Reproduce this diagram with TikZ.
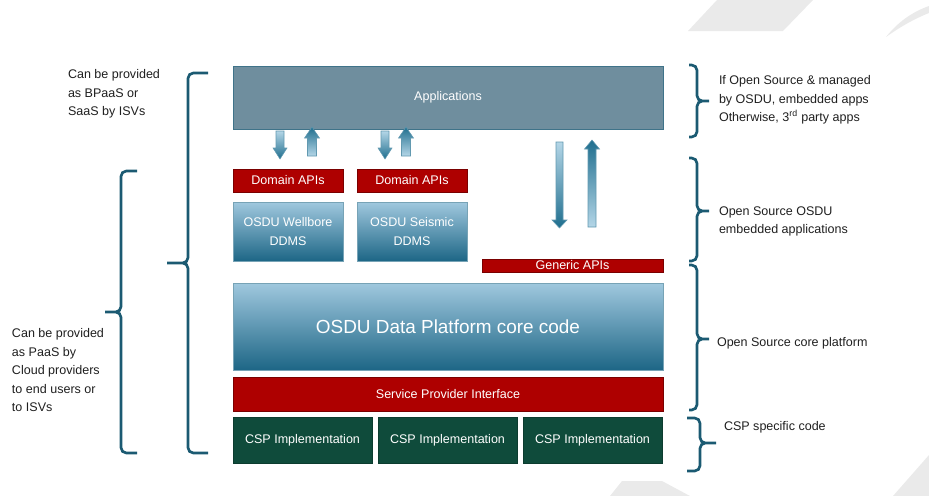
\documentclass[tikz,border=0pt]{standalone}
\usepackage{fontspec}
\setmainfont{Liberation Sans}
\usetikzlibrary{positioning}
\usetikzlibrary{shadows}
\definecolor{appgray}{HTML}{6F8E9E}
\definecolor{appedge}{HTML}{3F7389}
\definecolor{apired}{HTML}{AE0000}
\definecolor{cspgreen}{HTML}{0F4B3B}
\definecolor{boxtop}{HTML}{A0C8DE}
\definecolor{boxbot}{HTML}{1D6686}
\definecolor{bracecol}{HTML}{1B5A72}
\definecolor{arrlight}{HTML}{B4D6E7}
\definecolor{arrdark}{HTML}{1F6E8E}
\definecolor{wmark}{HTML}{EAEAEA}

\begin{document}
\begin{tikzpicture}[
            x = 0.75pt, y = -0.75pt, % one unit = one pixel
            font = \fontsize{9.4}{13.9}\selectfont,
            inner sep = 0pt,
            outer sep = 0pt
        ]

        \tikzstyle{layer}=[
            thin,
            text = white,
            drop shadow = {shadow xshift = 1pt, shadow yshift = -1pt, opacity = .25}
        ]
        \tikzstyle{apps}=[layer, fill = appgray, draw = appedge]
        \tikzstyle{api}=[layer, fill = apired, draw = apired!70!black]
        \tikzstyle{ddms}=[layer, top color = boxtop, bottom color = boxbot, draw = boxbot!60, align = center]
        \tikzstyle{csp}=[layer, fill = cspgreen, draw = cspgreen!80!black,
            minimum width = 104.25pt, minimum height = 34.5pt]
        \tikzstyle{brace}=[draw = bracecol, line width = 2pt, rounded corners = 4pt]
        \tikzstyle{note}=[anchor = north west, align = left, text = black!88]
        \tikzstyle{upblock}=[draw = arrdark!70, thin, top color = arrdark, bottom color = arrlight]
        \tikzstyle{downblock}=[draw = arrdark!70, thin, top color = arrlight, bottom color = arrdark]

        \useasboundingbox (0,0) rectangle (929,496);

        % background marks
        \fill[wmark] (688,31) -- (717,0) -- (813,0) -- (783,31) -- cycle;
        \fill[wmark] (886,37) .. controls (898,22) and (912,12) .. (929,6) -- (929,13)
            .. controls (914,19) and (900,27) .. (886,37) -- cycle;
        \fill[wmark] (610,496) -- (622,481) -- (662,481) -- (690,496) -- cycle;
        \fill[wmark] (893,496) -- (929,455) -- (929,496) -- cycle;

        % applications
        \node[apps, minimum width = 322.5pt, minimum height = 47.25pt] (Apps) at (448,97.5) {Applications};

        % embedded applications
        \node[api, minimum width = 82.5pt, minimum height = 17.25pt] (DomA) at (288,180.5) {Domain APIs};
        \node[api, minimum width = 82.5pt, minimum height = 17.25pt] (DomB) [right = 10.5pt of DomA] {Domain APIs};
        \node[ddms, minimum width = 82.5pt, minimum height = 44.25pt] (Wellbore) [below = 7.5pt of DomA] {OSDU Wellbore\\DDMS};
        \node[ddms, minimum width = 82.5pt, minimum height = 44.25pt] (Seismic) [below = 7.5pt of DomB] {OSDU Seismic\\DDMS};

        \draw[downblock] (276,131) -- (284,131) -- (284,148) -- (287,148) -- (280,159) -- (273,148) -- (276,148) -- cycle;
        \draw[upblock] (307.5,156) -- (307.5,138) -- (304.5,138) -- (312,127) -- (319.5,138) -- (316.5,138) -- (316.5,156) -- cycle;
        \draw[downblock] (381,131) -- (389,131) -- (389,148) -- (392,148) -- (385,159) -- (378,148) -- (381,148) -- cycle;
        \draw[upblock] (401.5,156) -- (401.5,138) -- (398.5,138) -- (406,127) -- (413.5,138) -- (410.5,138) -- (410.5,156) -- cycle;
        \draw[downblock] (556,142) -- (563,142) -- (563,220) -- (567,220) -- (559.5,228) -- (552,220) -- (556,220) -- cycle;
        \draw[upblock] (588,227) -- (588,149) -- (584.5,149) -- (592,140) -- (599.5,149) -- (596,149) -- (596,227) -- cycle;

        % core platform
        \node[api, minimum width = 135.75pt, minimum height = 9.75pt] (Generic) at (572.5,265.5) {Generic APIs};
        \node[ddms, minimum width = 322.5pt, minimum height = 65.25pt, font = \fontsize{14.2}{17}\selectfont] (Core) at (448,326.5) {OSDU Data Platform core code};
        \node[api, minimum width = 322.5pt, minimum height = 25.5pt] (SPI) at (448,394) {Service Provider Interface};

        % cloud providers
        \node[csp] (CSPa) at (302.5,440) {CSP Implementation};
        \node[csp] (CSPb) [right = 4.5pt of CSPa] {CSP Implementation};
        \node[csp] (CSPc) [right = 4.5pt of CSPb] {CSP Implementation};

        % braces
        \draw[brace] (208,73) -| (188,263) -- (167,263) (167,263) -- (188,263) |- (208,453);
        \draw[brace] (137,171) -| (121,312) -- (105,312) (105,312) -- (121,312) |- (137,453);
        \draw[brace] (689,65) -| (697,101) -- (709,101) (709,101) -- (697,101) |- (689,137);
        \draw[brace] (689,158) -| (697,211) -- (709,211) (709,211) -- (697,211) |- (689,261);
        \draw[brace] (689,265) -| (697,339) -- (709,339) (709,339) -- (697,339) |- (689,410);
        \draw[brace] (687,418) -| (700,443) -- (716,443) (716,443) -- (700,443) |- (687,471);

        % notes
        \node[note] (noteBPaaS) at (68,69.5) {Can be provided\\as BPaaS or\\SaaS by ISVs};
        \node[note] (notePaaS) at (12,328.5) {Can be provided\\as PaaS by\\Cloud providers\\to end users or\\to ISVs};
        \node[note] (noteApps) at (719,75.5) {If Open Source \& managed\\by OSDU, embedded apps\\Otherwise, 3\textsuperscript{rd} party apps};
        \node[note] (noteEmbed) at (719,206.5) {Open Source OSDU\\embedded applications};
        \node[note] (noteCore) at (717,337.5) {Open Source core platform};
        \node[note] (noteCSP) at (724,421.5) {CSP specific code};

\end{tikzpicture}
\end{document}
